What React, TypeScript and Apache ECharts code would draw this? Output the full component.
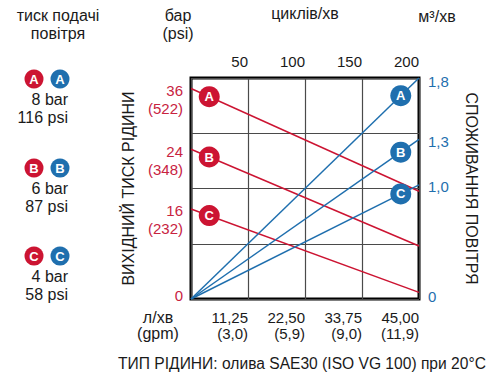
import React, { useEffect, useRef } from "react";
import * as echarts from "echarts";

// ---- data ----
const letters = ["A", "B", "C"];
// bottom axis: fluid flow, l/min (gpm)
const flowMax = 45;
const flowStep = 11.25;
const flowLabels = ["", "11,25", "22,50", "33,75", "45,00"];
const gpmLabels = ["", "(3,0)", "(5,9)", "(9,0)", "(11,9)"];
// top axis: cycles/min
const cycleMax = 200;
const cycleStep = 50;
// outlet fluid pressure lines (left scale, in grid rows 0..4 as drawn)
const outletStart = [3.81, 2.71, 1.63];
const outletEnd = [1.95, 0.96, 0.12];
const barLabels = ["36", "24", "16"];
const psiLabels = ["(522)", "(348)", "(232)"];
// air consumption lines (right scale, m³/min)
const airEnd = [1.8, 1.3, 0.93];
const airLabels = ["1,8", "1,3", "1,0"];
// supply air pressure legend
const supplyBar = ["8 bar", "6 bar", "4 bar"];
const supplyPsi = ["116 psi", "87 psi", "58 psi"];
// badge positions along flow axis
const redBadgeFlow = 3.6;
const blueBadgeFlow = 41.4;

const RED = "#cc1432";
const RED_TXT = "#c8233f";
const BLUE = "#1f6fae";
const FONT = "'Liberation Sans', Arial, sans-serif";
const TXT = "#1a1a1a";

// label placement offsets (in axis units) so the text sits as in the picture
const ROW_PX = 56.5;
const AIR_PX = 125.6;
const leftLabelPos = [4 / ROW_PX, ...outletStart.map((s) => s - 11 / ROW_PX)];
const leftLabelText = ["0", ...barLabels.map((b, i) => b + "\n" + psiLabels[i])];
const rightLabelPos = [3 / AIR_PX, ...airEnd.map((a, i) => a - (i === 0 ? 4 : 2) / AIR_PX)];
const rightLabelText = ["0", ...airLabels];

function findIdx(arr: number[], v: number) {
  return arr.findIndex((s) => Math.abs(s - v) < 1e-6);
}

export default function App() {
  const ref = useRef<HTMLDivElement>(null);
  useEffect(() => {
    if (!ref.current) return;
    const chart = echarts.init(ref.current, undefined, { renderer: "svg" });

    const series: any[] = [];
    letters.forEach((l, i) => {
      const ys = outletStart[i];
      const ye = outletEnd[i];
      series.push({
        type: "line",
        name: "p" + l,
        xAxisIndex: 0,
        yAxisIndex: 0,
        data: [
          [0, ys],
          [flowMax, ye],
        ],
        symbol: "none",
        silent: true,
        lineStyle: { color: RED, width: 1.5 },
        markPoint: {
          symbol: "circle",
          symbolSize: 21,
          itemStyle: { color: RED },
          label: { show: true, formatter: "{b}", color: "#fff", fontWeight: "bold", fontSize: 13, fontFamily: FONT },
          data: [{ name: l, coord: [redBadgeFlow, ys + ((ye - ys) * redBadgeFlow) / flowMax] }],
        },
      });
    });
    letters.forEach((l, i) => {
      series.push({
        type: "line",
        name: "q" + l,
        xAxisIndex: 0,
        yAxisIndex: 1,
        data: [
          [0, 0],
          [flowMax, airEnd[i]],
        ],
        symbol: "none",
        silent: true,
        lineStyle: { color: BLUE, width: 1.5 },
        markPoint: {
          symbol: "circle",
          symbolSize: 21,
          itemStyle: { color: BLUE },
          label: { show: true, formatter: "{b}", color: "#fff", fontWeight: "bold", fontSize: 13, fontFamily: FONT },
          data: [{ name: l, coord: [blueBadgeFlow, (airEnd[i] * blueBadgeFlow) / flowMax] }],
        },
      });
    });

    const graphic: any[] = [];
    const txt = (text: string, x: number, y: number, align: string, size = 16, lh = 18) => ({
      type: "text",
      x,
      y,
      style: {
        text,
        fill: TXT,
        font: `${size}px ${FONT}`,
        fontSize: size,
        fontFamily: FONT,
        lineHeight: lh,
        textAlign: align,
        align,
        textVerticalAlign: "middle",
        verticalAlign: "middle",
      },
    });
    const badge = (l: string, cx: number, cy: number, color: string) => ({
      type: "group",
      children: [
        { type: "circle", shape: { cx, cy, r: 9.5 }, style: { fill: color } },
        {
          type: "text",
          x: cx,
          y: cy + 0.5,
          style: {
            text: l,
            fill: "#fff",
            font: `bold 13px ${FONT}`,
            textAlign: "center",
            align: "center",
            textVerticalAlign: "middle",
            verticalAlign: "middle",
          },
        },
      ],
    });
    graphic.push(txt("тиск подачі\nповітря", 58, 24, "center"));
    graphic.push(txt("бар\n(psi)", 178, 24, "center"));
    graphic.push(txt("м³/хв", 437, 16, "center"));
    graphic.push(txt("л/хв\n(gpm)", 158, 325, "center", 16, 16));
    graphic.push(txt("ТИП РІДИНИ: олива SAE30 (ISO VG 100) при 20°C", 302, 363, "center", 15.6));
    const legendY = [79, 168, 256];
    letters.forEach((l, i) => {
      graphic.push(badge(l, 34, legendY[i], RED));
      graphic.push(badge(l, 60, legendY[i], BLUE));
      graphic.push(txt(supplyBar[i], 68, legendY[i] + 20, "right", 16));
      graphic.push(txt(supplyPsi[i], 68, legendY[i] + 38, "right", 16));
    });

    chart.setOption({
      animation: false,
      textStyle: { fontFamily: FONT },
      grid: {
        left: 191,
        right: 83,
        top: 73,
        bottom: 80,
        show: true,
        borderColor: "#000",
        borderWidth: 3,
        backgroundColor: "transparent",
        containLabel: false,
      },
      xAxis: [
        {
          type: "value",
          position: "bottom",
          min: 0,
          max: flowMax,
          interval: flowStep,
          axisLine: { show: false },
          axisTick: { show: false },
          splitLine: { show: true, lineStyle: { color: "#4a4a4a", width: 1.2 } },
          axisLabel: {
            margin: 10,
            align: "right",
            color: TXT,
            fontSize: 15,
            lineHeight: 16,
            fontFamily: FONT,
            formatter: (v: number) => {
              const i = Math.round(v / flowStep);
              return i === 0 ? "" : flowLabels[i] + "\n" + gpmLabels[i];
            },
          },
        },
        {
          type: "value",
          position: "top",
          min: 0,
          max: cycleMax,
          interval: cycleStep,
          axisLine: { show: false },
          axisTick: { show: false },
          splitLine: { show: false },
          name: "циклів/хв",
          nameLocation: "middle",
          nameGap: 57,
          nameTextStyle: { color: TXT, fontSize: 16, fontFamily: FONT },
          axisLabel: {
            margin: 9,
            align: "right",
            color: TXT,
            fontSize: 15,
            fontFamily: FONT,
            formatter: (v: number) => (v === 0 ? "" : String(v)),
          },
        },
      ],
      yAxis: [
        {
          type: "value",
          position: "left",
          min: 0,
          max: 4,
          interval: 1,
          axisLine: { show: false },
          axisTick: { show: false },
          splitLine: { show: true, lineStyle: { color: "#4a4a4a", width: 1.2 } },
          name: "ВИХІДНИЙ ТИСК РІДИНИ",
          nameLocation: "middle",
          nameRotate: 90,
          nameGap: 55,
          nameTextStyle: { color: TXT, fontSize: 16, fontFamily: FONT },
          axisLabel: {
            margin: 8,
            color: RED_TXT,
            fontSize: 15,
            lineHeight: 18,
            fontFamily: FONT,
            customValues: leftLabelPos,
            formatter: (v: number) => {
              const i = findIdx(leftLabelPos, v);
              return i < 0 ? "" : leftLabelText[i];
            },
          },
        },
        {
          type: "value",
          position: "right",
          min: 0,
          max: 1.8,
          axisLine: { show: false },
          axisTick: { show: false },
          splitLine: { show: false },
          name: "СПОЖИВАННЯ ПОВІТРЯ",
          nameLocation: "middle",
          nameRotate: -90,
          nameGap: 44,
          nameTextStyle: { color: TXT, fontSize: 16, fontFamily: FONT },
          axisLabel: {
            margin: 9,
            color: BLUE,
            fontSize: 15,
            fontFamily: FONT,
            customValues: rightLabelPos,
            formatter: (v: number) => {
              const i = findIdx(rightLabelPos, v);
              return i < 0 ? "" : rightLabelText[i];
            },
          },
        },
      ],
      series,
      graphic,
    });
    return () => chart.dispose();
  }, []);
  return <div ref={ref} style={{ width: 502, height: 379, position: "absolute", left: 0, top: 0 }} />;
}
